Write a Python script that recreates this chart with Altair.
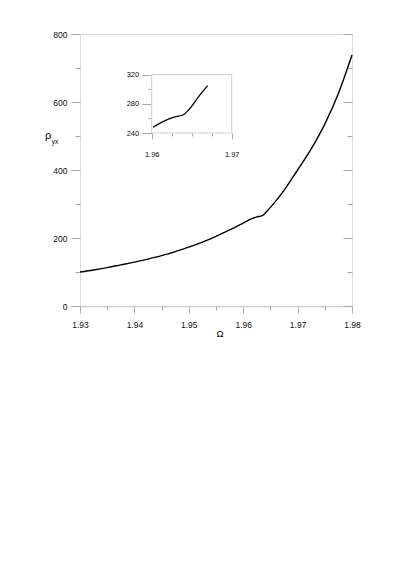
import altair as alt
import pandas as pd

# ---- data ----
main_omega = [1.930, 1.9325, 1.935, 1.9375, 1.940, 1.9425, 1.945, 1.9475, 1.950,
              1.9525, 1.955, 1.9575, 1.960, 1.9615, 1.9625, 1.9635, 1.965, 1.9675,
              1.970, 1.9725, 1.975, 1.9775, 1.980]
main_rho = [100, 106, 113, 121, 129, 138, 148, 160, 173,
            188, 205, 224, 244, 256, 262, 266, 290, 340,
            400, 462, 535, 625, 738]

inset_omega = [1.96016, 1.9614, 1.9627, 1.9639, 1.9648, 1.9658, 1.9670]
inset_rho = [247.8, 255.5, 261.5, 264.7, 273.9, 289, 305]

x_major = [1.93, 1.94, 1.95, 1.96, 1.97, 1.98]
x_minor = [1.935, 1.945, 1.955, 1.965, 1.975]
y_major = [0, 200, 400, 600, 800]
y_minor = [100, 300, 500, 700]
in_x_major = [1.96, 1.97]
in_x_minor = [1.9625, 1.965, 1.9675]
in_y_major = [240, 280, 320]
in_y_minor = [260, 300]

W = H = 272
FONT = "Liberation Sans"
TICK = "#aaaaaa"
LINE = "#cfcfcf"

main_df = pd.DataFrame({"omega": main_omega, "rho": main_rho})
inset_df = pd.DataFrame({"omega": inset_omega, "rho": inset_rho})
box_df = pd.DataFrame({"x0": [in_x_major[0]], "x1": [in_x_major[-1]],
                       "y0": [in_y_major[0]], "y1": [in_y_major[-1]]})


def xs_main():
    return alt.Scale(domain=[1.93, 1.98], nice=False, zero=False)


def ys_main():
    return alt.Scale(domain=[0, 800], nice=False, zero=False)


def xs_in():
    return alt.Scale(domain=[1.96, 1.97], range=[71.7, 151.7], nice=False, zero=False)


def ys_in():
    return alt.Scale(domain=[240, 320], range=[99, 40.7], nice=False, zero=False)


lab = dict(labelFont=FONT, labelColor="#111111", tickColor=TICK, title=None, grid=False)

# main curve with major ticks
main_line = alt.Chart(main_df).mark_line(color="black", strokeWidth=1.4,
                                         interpolate="monotone").encode(
    x=alt.X("omega:Q", scale=xs_main(),
            axis=alt.Axis(orient="bottom", values=x_major, format=".2f", tickSize=7,
                          labelFontSize=8.5, labelPadding=7, domain=True,
                          domainColor=LINE, domainWidth=1.5, labelFlush=False, **lab)),
    y=alt.Y("rho:Q", scale=ys_main(),
            axis=alt.Axis(orient="left", values=y_major, format="d", tickSize=9,
                          labelFontSize=8.5, labelPadding=4, domain=False, **lab)),
)

# minor ticks bottom/left
minor = alt.Chart(main_df).mark_point(opacity=0, size=1).encode(
    x=alt.X("omega:Q", scale=xs_main(),
            axis=alt.Axis(orient="bottom", values=x_minor, tickSize=4, labels=False,
                          domain=False, **lab)),
    y=alt.Y("rho:Q", scale=ys_main(),
            axis=alt.Axis(orient="left", values=y_minor, tickSize=5, labels=False,
                          domain=False, **lab)),
)

# right side inward ticks
right_major = alt.Chart(main_df).mark_point(opacity=0, size=1).encode(
    x=alt.X("omega:Q", scale=xs_main(), axis=None),
    y=alt.Y("rho:Q", scale=ys_main(),
            axis=alt.Axis(orient="right", values=y_major, tickSize=9, offset=-9,
                          labels=False, domain=False, **lab)),
)
right_minor = alt.Chart(main_df).mark_point(opacity=0, size=1).encode(
    x=alt.X("omega:Q", scale=xs_main(), axis=None),
    y=alt.Y("rho:Q", scale=ys_main(),
            axis=alt.Axis(orient="right", values=y_minor, tickSize=5, offset=-5,
                          labels=False, domain=False, **lab)),
)

# inset frame
inset_box = alt.Chart(box_df).mark_rect(fill="white", stroke=LINE, strokeWidth=1).encode(
    x=alt.X("x0:Q", scale=xs_in(), axis=None),
    x2="x1:Q",
    y=alt.Y("y0:Q", scale=ys_in(), axis=None),
    y2="y1:Q",
)

# inset curve with major ticks
inset_line = alt.Chart(inset_df).mark_line(color="black", strokeWidth=1.3,
                                           interpolate="monotone").encode(
    x=alt.X("omega:Q", scale=xs_in(),
            axis=alt.Axis(orient="bottom", values=in_x_major, format=".2f", tickSize=6,
                          offset=-(H - 99), labelFontSize=7.5, labelPadding=11,
                          domain=False, labelFlush=False, **lab)),
    y=alt.Y("rho:Q", scale=ys_in(),
            axis=alt.Axis(orient="left", values=in_y_major, format="d", tickSize=10,
                          offset=-71.7, labelFontSize=7.5, labelPadding=3,
                          domain=False, **lab)),
)

inset_minor = alt.Chart(inset_df).mark_point(opacity=0, size=1).encode(
    x=alt.X("omega:Q", scale=xs_in(),
            axis=alt.Axis(orient="bottom", values=in_x_minor, tickSize=3,
                          offset=-(H - 99), labels=False, domain=False, **lab)),
    y=alt.Y("rho:Q", scale=ys_in(),
            axis=alt.Axis(orient="left", values=in_y_minor, tickSize=4,
                          offset=-71.7, labels=False, domain=False, **lab)),
)

label_df = pd.DataFrame({"t": [0]})
rho_txt = alt.Chart(label_df).mark_text(text="ρ", font=FONT, fontSize=11, color="black",
                                        align="center", baseline="alphabetic").encode(
    x=alt.value(-32), y=alt.value(105))
yx_txt = alt.Chart(label_df).mark_text(text="yx", font=FONT, fontSize=6.5, color="black",
                                       align="left", baseline="alphabetic").encode(
    x=alt.value(-28.3), y=alt.value(109.5))
omega_txt = alt.Chart(label_df).mark_text(text="Ω", font=FONT, fontSize=9.5, color="black",
                                          align="center", baseline="alphabetic").encode(
    x=alt.value(140), y=alt.value(303))

chart = alt.layer(
    main_line, minor, right_major, right_minor,
    inset_box, inset_line, inset_minor,
    rho_txt, yx_txt, omega_txt,
).resolve_scale(x="independent", y="independent").resolve_axis(
    x="independent", y="independent"
).properties(
    width=W, height=H,
    autosize=alt.AutoSizeParams(type="none"),
    padding={"left": 72, "top": 26, "right": 50, "bottom": 270},
).configure_view(stroke=LINE, strokeWidth=1).configure(background="white")

chart.save("out.html", embed_options={"renderer": "svg", "actions": False})
